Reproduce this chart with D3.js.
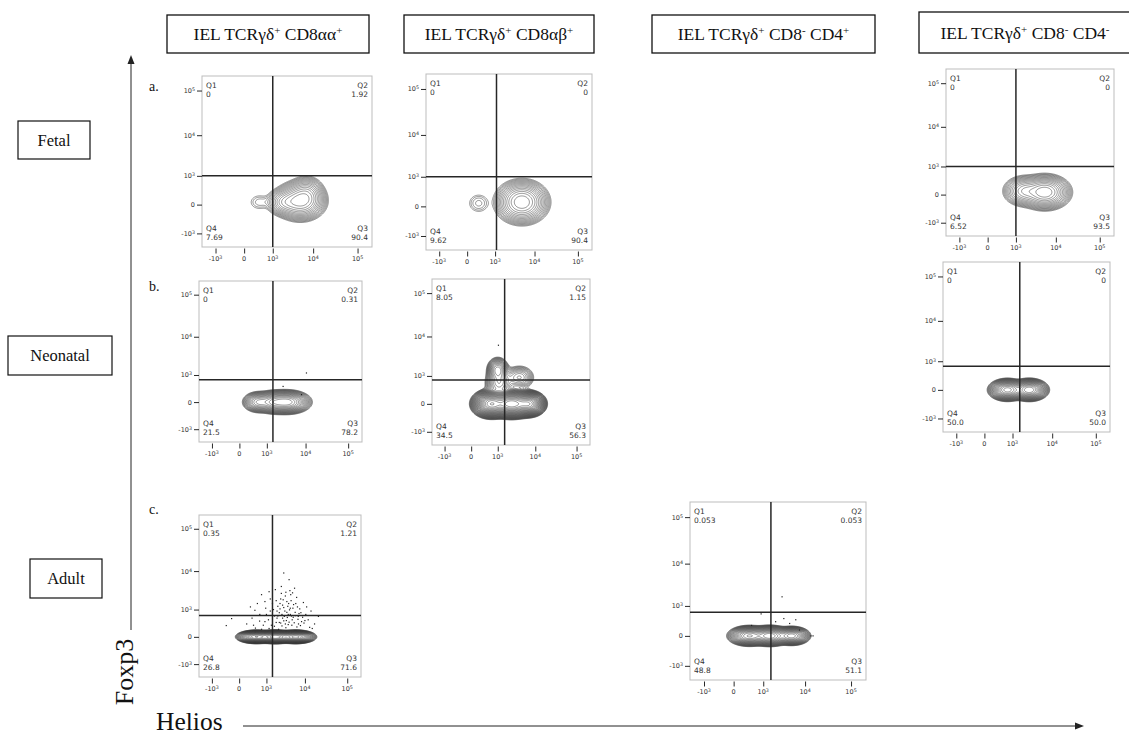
<!DOCTYPE html>
<html>
<head>
<meta charset="utf-8">
<script src="https://cdn.jsdelivr.net/npm/d3@7"></script>
<style>
  body { margin: 0; background: #fff; }
  svg { display: block; }
</style>
</head>
<body>
<svg id="fig" width="1129" height="737"></svg>
<script>
// ---- data ----
var headers = ["IEL TCRγδ^+ CD8αα^+", "IEL TCRγδ^+ CD8αβ^+", "IEL TCRγδ^+ CD8^- CD4^+", "IEL TCRγδ^+ CD8^- CD4^-"];
var ages = ["Fetal", "Neonatal", "Adult"];
var rowLetters = ["a.", "b.", "c."];

var panelIds = ["fetalAA", "fetalAB", "fetalDN", "neoAA", "neoAB", "neoDN", "adultAA", "adultCD4"];
var q1 = ["0", "0", "0", "0", "8.05", "0", "0.35", "0.053"];
var q2 = ["1.92", "0", "0", "0.31", "1.15", "0", "1.21", "0.053"];
var q3 = ["90.4", "90.4", "93.5", "78.2", "56.3", "50.0", "71.6", "51.1"];
var q4 = ["7.69", "9.62", "6.52", "21.5", "34.5", "50.0", "26.8", "48.8"];

// quadrant gates (Helios, Foxp3)
var gateHelios = [1000, 1100, 1000, 1500, 1600, 1600, 1500, 1600];
var gateFoxp3 = [1000, 1000, 1000, 700, 750, 700, 650, 650];

// populations: [Helios, Foxp3, spread x (decades), spread y (decades), weight]
var pops = {
  fetalAA: [[5000, 60, 0.19, 0.145, 1], [2200, 40, 0.15, 0.11, 0.35], [7000, 200, 0.14, 0.14, 0.35],
            [350, 40, 0.13, 0.10, 0.012], [900, 40, 0.12, 0.06, 0.006]],
  fetalAB: [[5000, 70, 0.2, 0.155, 1], [250, 50, 0.13, 0.11, 0.014]],
  fetalDN: [[5500, 40, 0.19, 0.13, 1], [1800, 60, 0.17, 0.12, 0.35]],
  neoAA:   [[3500, 0, 0.18, 0.09, 1], [550, 0, 0.13, 0.085, 0.35], [1600, 0, 0.15, 0.09, 0.6]],
  neoAB:   [[600, 0, 0.16, 0.11, 0.8], [2500, 0, 0.2, 0.11, 1], [7000, 0, 0.14, 0.1, 0.6],
            [1000, 1500, 0.11, 0.12, 0.07], [4000, 900, 0.17, 0.13, 0.03], [1100, 600, 0.15, 0.15, 0.05]],
  neoDN:   [[700, 0, 0.14, 0.08, 0.9], [2800, 0, 0.14, 0.08, 1]],
  adultAA: [[450, 0, 0.15, 0.05, 0.8], [1800, 0, 0.15, 0.05, 1], [6000, 0, 0.15, 0.05, 0.9]],
  adultCD4:[[350, 0, 0.15, 0.07, 0.8], [1500, 0, 0.15, 0.07, 1], [5000, 0, 0.13, 0.065, 0.7]]
};

// single events outside the contours: [Helios, Foxp3]
var events = {
  neoAA: [[10500, 1150], [2800, 400], [8000, 150]],
  neoAB: [[1050, 6200]],
  adultAA: [[150, 300], [300, 520], [420, 180], [610, 700], [800, 260], [950, 1100], [1150, 450], [1300, 900],
            [1500, 1500], [1700, 620], [1900, 350], [2100, 1250], [2300, 800], [2500, 2000], [2800, 520],
            [3000, 1150], [3300, 300], [3600, 1700], [3900, 700], [4200, 980], [4500, 2600], [4900, 450],
            [5300, 1400], [5800, 820], [6300, 2200], [6900, 600], [7500, 1050], [8300, 380], [9200, 1600],
            [10500, 700], [12000, 450], [14000, 900], [17000, 300], [21000, 600], [1800, 3500], [2600, 4200],
            [3400, 3000], [4100, 6200], [5600, 3800], [700, 2600], [1200, 3100], [3000, 9000], [2200, 150],
            [2700, 240], [3100, 600], [3500, 420], [2000, 900], [2400, 1500], [2900, 1900], [3800, 1250],
            [4600, 1800], [1600, 1000], [1400, 260], [1000, 700], [600, 400], [400, 950], [250, 1200],
            [5100, 1100], [6000, 1500], [7000, 300], [8000, 800], [2600, 2800], [3300, 2400], [1300, 2000],
            [900, 1700], [4300, 3300], [5000, 2900], [11000, 1200], [13000, 200], [3700, 550], [4400, 700],
            [2300, 350], [1900, 1800], [6600, 1200], [2800, 1350], [3200, 900], [4000, 1500], [500, 1500],
            [1700, 230], [2500, 330], [3400, 190], [4800, 260], [5500, 340], [6400, 210], [7800, 250],
            [9500, 330], [1200, 170], [900, 380], [2000, 520], [3000, 410], [4100, 360], [5200, 560],
            [6800, 470], [8800, 560], [1500, 650], [2700, 700], [3600, 820], [4700, 620], [5900, 640],
            [7200, 750], [10000, 420], [15000, 170], [700, 150], [350, 260], [2100, 620], [3900, 280],
            [4400, 1100], [2400, 1050], [-300, 250], [-150, 500]],
  adultCD4: [[3000, 1730], [870, 580], [6200, 360], [4500, 250], [3300, 400], [15000, 0], [430, 200],
             [7500, 100], [2100, 300], [13500, 0]]
};

var majorTicks = [-1000, 0, 1000, 10000, 100000];
var majorLabels = [["-10", "3"], ["0", ""], ["10", "3"], ["10", "4"], ["10", "5"]];

// ---- layout ----
var layout = {
  fetalAA:  {x: 202, y: 76,  w: 170, h: 171, n: 15},
  fetalAB:  {x: 426, y: 74,  w: 166, h: 176, n: 15},
  fetalDN:  {x: 946, y: 69,  w: 168, h: 167, n: 15},
  neoAA:    {x: 199, y: 281, w: 163, h: 161, n: 18},
  neoAB:    {x: 432, y: 279, w: 158, h: 166, n: 28},
  neoDN:    {x: 943, y: 262, w: 167, h: 170, n: 20},
  adultAA:  {x: 199, y: 515, w: 162, h: 162, n: 22},
  adultCD4: {x: 690, y: 502, w: 176, h: 178, n: 20}
};
var headerBoxes = [[167, 15, 202, 38], [404, 15, 190, 38], [652, 15, 223, 38], [919, 12, 212, 41]];
var ageBoxes = [[18, 121, 72, 38], [8, 336, 104, 39], [30, 559, 72, 39]];
var letterPos = [[149, 91], [149, 291], [149, 514]];

var C = 300, lo = -2300, hi = 210000;
var serif = "'Liberation Serif', 'Times New Roman', serif";
var sans = "'DejaVu Sans', sans-serif";

var svg = d3.select("#fig");

var minorTicks = [].concat(d3.range(-2000, -1000, 1000), d3.range(-900, 0, 100), d3.range(-90, 0, 10),
  d3.range(10, 100, 10), d3.range(100, 1000, 100), d3.range(2000, 10000, 1000),
  d3.range(20000, 100000, 10000), [200000]);

var unit = function(v) { return Math.sign(v) * Math.log10(1 + Math.abs(v) / C); };

// superscript-aware text
var richText = function(sel, str, supSize) {
  var parts = str.split(/\^(.)/);
  parts.forEach(function(p, i) {
    if (p === "") return;
    var t = sel.append("tspan").text(p);
    if (i % 2 == 1) t.attr("baseline-shift", "super").attr("font-size", supSize);
  });
};

// header boxes
headers.forEach(function(h, i) {
  var b = headerBoxes[i];
  svg.append("rect").attr("x", b[0]).attr("y", b[1]).attr("width", b[2]).attr("height", b[3])
    .attr("fill", "#fff").attr("stroke", "#111").attr("stroke-width", 1.3);
  var t = svg.append("text").attr("x", b[0] + b[2] / 2).attr("y", b[1] + b[3] / 2 + 6)
    .attr("text-anchor", "middle").attr("font-family", serif).attr("font-size", 17.5).attr("fill", "#111");
  richText(t, h, 11);
});

ages.forEach(function(a, i) {
  var b = ageBoxes[i];
  svg.append("rect").attr("x", b[0]).attr("y", b[1]).attr("width", b[2]).attr("height", b[3])
    .attr("fill", "#fff").attr("stroke", "#111").attr("stroke-width", 1.2);
  svg.append("text").attr("x", b[0] + b[2] / 2).attr("y", b[1] + b[3] / 2 + 5.5)
    .attr("text-anchor", "middle").attr("font-family", serif).attr("font-size", 16.5).attr("fill", "#111").text(a);
});

rowLetters.forEach(function(l, i) {
  svg.append("text").attr("x", letterPos[i][0]).attr("y", letterPos[i][1])
    .attr("font-family", serif).attr("font-size", 14).attr("fill", "#111").text(l);
});

// big axis arrows
svg.append("line").attr("x1", 131).attr("y1", 630).attr("x2", 131).attr("y2", 62).attr("stroke", "#222").attr("stroke-width", 1);
svg.append("path").attr("d", "M131,55 L127.5,64 L134.5,64 Z").attr("fill", "#222");
svg.append("line").attr("x1", 243).attr("y1", 726).attr("x2", 1076).attr("y2", 726).attr("stroke", "#222").attr("stroke-width", 1);
svg.append("path").attr("d", "M1084,726 L1075,722.5 L1075,729.5 Z").attr("fill", "#222");
svg.append("text").attr("transform", "translate(133,672) rotate(-90)").attr("text-anchor", "middle")
  .attr("font-family", serif).attr("font-size", 26).attr("fill", "#111").text("Foxp3");
svg.append("text").attr("x", 156).attr("y", 730).attr("font-family", serif).attr("font-size", 25.5)
  .attr("fill", "#111").text("Helios");

// ---- flow panels ----
var drawPanel = function(id, idx) {
  var L = layout[id];
  var xs = d3.scaleSymlog().constant(C).domain([lo, hi]).range([0, L.w]);
  var ys = d3.scaleSymlog().constant(C).domain([lo, hi]).range([L.h, 0]);
  var g = svg.append("g").attr("transform", "translate(" + L.x + "," + L.y + ")");

  g.append("rect").attr("width", L.w).attr("height", L.h).attr("fill", "#fff")
    .attr("stroke", "#bdbdbd").attr("stroke-width", 1);

  // density grid from the populations
  var W = Math.round(L.w), H = Math.round(L.h);
  var grid = new Float64Array(W * H);
  var ux = d3.range(W).map(function(i) { return unit(xs.invert(i + 0.5)); });
  var uy = d3.range(H).map(function(j) { return unit(ys.invert(j + 0.5)); });
  var list = pops[id].map(function(p) { return [unit(p[0]), unit(p[1]), p[2], p[3], p[4]]; });
  for (var j = 0; j < H; j++) {
    for (var i = 0; i < W; i++) {
      var s = 0;
      list.forEach(function(p) {
        var dx = (ux[i] - p[0]) / p[2], dy = (uy[j] - p[1]) / p[3];
        s += p[4] * Math.exp(-0.5 * (dx * dx + dy * dy));
      });
      grid[j * W + i] = s;
    }
  }
  var mx = d3.max(grid);
  var levels = d3.range(1, L.n + 1).map(function(k) { return mx * Math.pow(0.004, k / L.n); });
  var cont = d3.contours().size([W, H]).thresholds(levels)(grid);
  g.append("g").selectAll("path").data(cont).join("path")
    .attr("d", d3.geoPath()).attr("fill", "none").attr("stroke", "#2e2e2e").attr("stroke-width", 0.6)
    .attr("stroke-opacity", 0.85);

  // single events
  g.append("g").selectAll("rect").data(events[id] || []).join("rect")
    .attr("x", function(d) { return xs(d[0]) - 0.6; }).attr("y", function(d) { return ys(d[1]) - 0.6; })
    .attr("width", 1.2).attr("height", 1.2).attr("fill", "#222");

  // gates
  g.append("line").attr("x1", xs(gateHelios[idx])).attr("x2", xs(gateHelios[idx])).attr("y1", 0).attr("y2", L.h)
    .attr("stroke", "#262626").attr("stroke-width", 1.5);
  g.append("line").attr("x1", 0).attr("x2", L.w).attr("y1", ys(gateFoxp3[idx])).attr("y2", ys(gateFoxp3[idx]))
    .attr("stroke", "#262626").attr("stroke-width", 1.5);

  // axes
  var inDomain = minorTicks.filter(function(v) { return v > lo && v < hi; });
  var yAx = g.append("g");
  yAx.call(d3.axisLeft(ys).tickValues(inDomain).tickSize(2.5).tickFormat(""));
  yAx.call(d3.axisLeft(ys).tickValues(majorTicks).tickSize(5).tickFormat(""));
  var xAx = g.append("g").attr("transform", "translate(0," + (L.h + 1.5) + ")");
  xAx.call(d3.axisBottom(xs).tickValues(inDomain).tickSize(2.5).tickFormat(""));
  xAx.call(d3.axisBottom(xs).tickValues(majorTicks).tickSize(5).tickFormat(""));
  g.selectAll(".domain").remove();
  g.selectAll(".tick line").attr("stroke", "#111").attr("stroke-width", 0.9);

  majorTicks.forEach(function(v, k) {
    var lab = majorLabels[k];
    var ty = g.append("text").attr("x", -7).attr("y", ys(v) + 2.5).attr("text-anchor", "end")
      .attr("font-family", sans).attr("font-size", 6.5).attr("fill", "#333");
    ty.append("tspan").text(lab[0]);
    if (lab[1]) ty.append("tspan").attr("baseline-shift", "super").attr("font-size", 4.8).text(lab[1]);
    var tx = g.append("text").attr("x", xs(v)).attr("y", L.h + 14).attr("text-anchor", "middle")
      .attr("font-family", sans).attr("font-size", 6.5).attr("fill", "#333");
    tx.append("tspan").text(lab[0]);
    if (lab[1]) tx.append("tspan").attr("baseline-shift", "super").attr("font-size", 4.8).text(lab[1]);
  });

  // quadrant labels
  var qText = function(x, y, anchor, s) {
    g.append("text").attr("x", x).attr("y", y).attr("text-anchor", anchor)
      .attr("font-family", sans).attr("font-size", 7.5).attr("fill", "#333").text(s);
  };
  qText(4, 12, "start", "Q1"); qText(4, 21, "start", q1[idx]);
  qText(L.w - 4, 12, "end", "Q2"); qText(L.w - 4, 21, "end", q2[idx]);
  qText(4, L.h - 16, "start", "Q4"); qText(4, L.h - 7, "start", q4[idx]);
  qText(L.w - 4, L.h - 16, "end", "Q3"); qText(L.w - 4, L.h - 7, "end", q3[idx]);
};

panelIds.forEach(drawPanel);
</script>
</body>
</html>
